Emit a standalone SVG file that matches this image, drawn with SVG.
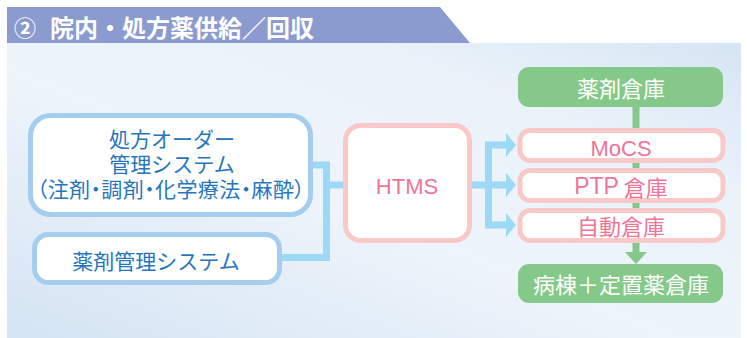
<svg xmlns="http://www.w3.org/2000/svg" width="747" height="338" viewBox="0 0 747 338">
<defs>
<linearGradient id="bg" x1="0" y1="1" x2="1" y2="0">
<stop offset="0" stop-color="#d4e4f3"/>
<stop offset="0.45" stop-color="#eef4fb"/>
<stop offset="0.75" stop-color="#eaf2fa"/>
<stop offset="1" stop-color="#d6e5f3"/>
</linearGradient>
<polygon id="bh" points="0,-12 10,0 0,12"/>
<style>
text{font-family:"Noto Sans CJK JP","Noto Sans",sans-serif;text-anchor:middle;dominant-baseline:central}
.lat{font-family:"Liberation Sans","Noto Sans CJK JP",sans-serif}
.blue{fill:#fff;stroke:#a5cdee;stroke-width:5}
.pink{fill:#fff;stroke:#f9c9c9;stroke-width:5}
.green{fill:#85c98a}
.tb{fill:#2676bd;font-size:21px}
.tp{fill:#f07495;font-size:22px}
.tw{fill:#fff;font-size:22px}
.cb{fill:none;stroke:#9dd8f6;stroke-width:7}
</style>
</defs>
<rect x="7" y="43" width="734" height="295" fill="url(#bg)"/>
<polygon points="7,7 440,7 470,43 7,43" fill="#8b9bcf"/>
<text x="25" y="26" fill="#fff" font-size="22" font-weight="bold">②</text>
<text x="50" y="26" fill="#fff" font-size="24" font-weight="bold" style="text-anchor:start">院内・処方薬供給／回収</text>

<g id="connectors">
<path class="cb" d="M313,165 H326.5 V257.5 H282 M326.5,185 H345"/>
<path class="cb" d="M472,185 H488.5 M488.5,141.5 V228.5 M485,145 H507 M485,185 H507 M485,225 H507"/>
<use href="#bh" x="506" y="145" fill="#9dd8f6"/>
<use href="#bh" x="506" y="185" fill="#9dd8f6"/>
<use href="#bh" x="506" y="225" fill="#9dd8f6"/>
<path d="M636,107 V253" stroke="#85c98a" stroke-width="7" fill="none"/>
<polygon points="625,252 647,252 636,264" fill="#85c98a"/>
</g>

<g id="order">
<rect class="blue" x="30.5" y="115.5" width="280" height="99" rx="20"/>
<text class="tb"><tspan x="172" y="138">処方オーダー</tspan><tspan x="172" y="163">管理システム</tspan><tspan x="171" y="188" style="font-feature-settings:'palt';letter-spacing:0.4px">（注剤・調剤・化学療法・麻酔）</tspan></text>
</g>
<g id="drugmgmt">
<rect class="blue" x="34.5" y="234.5" width="245" height="48" rx="14"/>
<text class="tb" x="156" y="260">薬剤管理システム</text>
</g>
<g id="htms">
<rect class="pink" x="345.5" y="125.5" width="124" height="115" rx="15"/>
<text class="tp lat" x="407" y="186" font-size="24">HTMS</text>
</g>
<g id="drugstore">
<rect class="green" x="518" y="67" width="205" height="40" rx="11"/>
<text class="tw" x="621" y="87">薬剤倉庫</text>
</g>
<g id="mocs">
<rect class="pink" x="520" y="130.5" width="203" height="30" rx="10"/>
<text class="tp lat" x="621" y="148" font-size="23">MoCS</text>
</g>
<g id="ptp">
<rect class="pink" x="520" y="170.5" width="203" height="30" rx="10"/>
<text class="tp" x="621" y="186"><tspan class="lat" font-size="23">PTP</tspan> 倉庫</text>
</g>
<g id="auto">
<rect class="pink" x="520" y="210.5" width="203" height="30" rx="10"/>
<text class="tp" x="621" y="225">自動倉庫</text>
</g>
<g id="ward">
<rect class="green" x="518" y="264" width="205" height="39" rx="11"/>
<text class="tw" x="621" y="283">病棟＋定置薬倉庫</text>
</g>
</svg>
